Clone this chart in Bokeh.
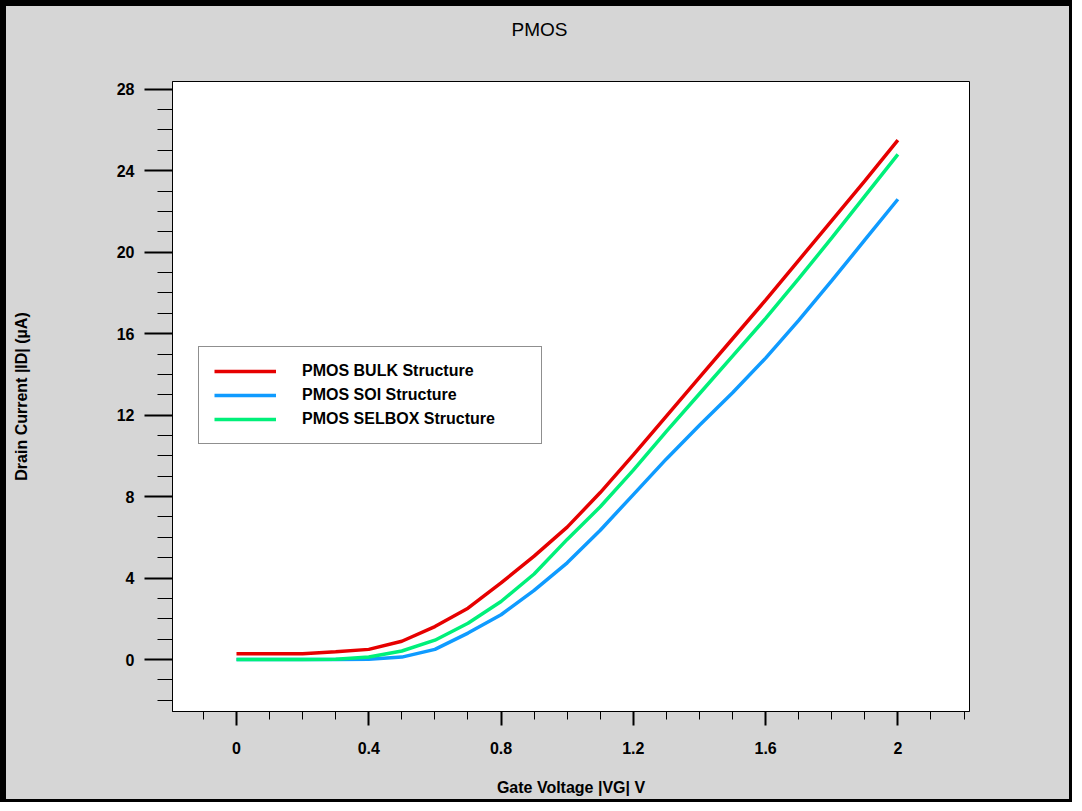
from bokeh.plotting import figure
from bokeh.models import FixedTicker, Legend, LegendItem, Range1d, Label
from bokeh.embed import file_html
from bokeh.resources import INLINE

# ---- data ----
gate_voltage = [0.0, 0.1, 0.2, 0.3, 0.4, 0.5, 0.6, 0.7, 0.8, 0.9, 1.0,
                1.1, 1.2, 1.3, 1.4, 1.5, 1.6, 1.7, 1.8, 1.9, 2.0]
bulk_current = [0.29, 0.29, 0.29, 0.38, 0.50, 0.90, 1.62, 2.52, 3.76, 5.08, 6.5,
                8.2, 10.05, 11.95, 13.85, 15.75, 17.65, 19.6, 21.55, 23.5, 25.5]
soi_current = [0.0, 0.0, 0.0, 0.0, 0.02, 0.12, 0.5, 1.3, 2.2, 3.4, 4.75,
               6.35, 8.1, 9.85, 11.5, 13.1, 14.8, 16.65, 18.6, 20.6, 22.6]
selbox_current = [0.0, 0.0, 0.0, 0.02, 0.13, 0.42, 0.95, 1.78, 2.85, 4.2, 5.9,
                  7.5, 9.3, 11.2, 13.05, 14.9, 16.75, 18.7, 20.7, 22.75, 24.8]

series_names = ["PMOS BULK Structure", "PMOS SOI Structure", "PMOS SELBOX Structure"]
series_colors = ["#e60000", "#0f9bff", "#00f07a"]

x_ticks = [0, 0.4, 0.8, 1.2, 1.6, 2]
x_tick_labels = ["0", "0.4", "0.8", "1.2", "1.6", "2"]
y_ticks = [0, 4, 8, 12, 16, 20, 24, 28]
y_tick_labels = ["0", "4", "8", "12", "16", "20", "24", "28"]

title_text = "PMOS"
x_label = "Gate Voltage |VG| V"
y_label = "Drain Current |ID| (\u00b5A)"

FONT = "Liberation Sans"
W, H = 1072, 802

p = figure(width=W, height=H, output_backend="svg", toolbar_location=None,
           x_range=Range1d(-0.1935, 2.2165), y_range=Range1d(-2.55, 28.38),
           min_border_left=172, min_border_right=103, min_border_top=81,
           min_border_bottom=91)
# grey window with a black frame (thick on left/top, thin on right/bottom)
p.styles = {"background-color": "#d6d6d6",
            "box-shadow": "inset 6px 6px 0 0 #000000, inset -3px -3px 0 0 #000000"}
p.border_fill_color = None
p.background_fill_color = "white"
p.outline_line_color = "black"
p.outline_line_width = 1
p.grid.visible = False

renderers = []
for ys, col in zip([bulk_current, soi_current, selbox_current], series_colors):
    r = p.line(gate_voltage, ys, line_color=col, line_width=3.5)
    renderers.append(r)

# title, centred over the whole window rather than over the plot area
p.add_layout(Label(x=367, y=52, x_units="screen", y_units="screen",
                   text=title_text, text_align="center", text_baseline="middle",
                   text_font=FONT, text_font_size="19px", text_color="black"),
             "above")

xa = p.xaxis[0]
xa.ticker = FixedTicker(ticks=x_ticks,
                        minor_ticks=[round(-0.1 + 0.1 * i, 1) for i in range(24)])
xa.major_label_overrides = dict(zip(x_ticks, x_tick_labels))
xa.major_tick_out = 14
xa.major_tick_in = 0
xa.minor_tick_out = 8
xa.minor_tick_in = 0
xa.major_label_standoff = 16
xa.axis_label = x_label
xa.axis_label_standoff = 22

ya = p.yaxis[0]
ya.ticker = FixedTicker(ticks=y_ticks, minor_ticks=list(range(-2, 29)))
ya.major_label_overrides = dict(zip(y_ticks, y_tick_labels))
ya.major_tick_out = 28
ya.major_tick_in = 0
ya.minor_tick_out = 15
ya.minor_tick_in = 0
ya.major_label_standoff = 10
ya.axis_label = y_label
ya.axis_label_standoff = 84

for ax in (xa, ya):
    ax.axis_line_color = "black"
    ax.major_tick_line_color = "black"
    ax.minor_tick_line_color = "black"
    ax.major_tick_line_width = 2
    ax.minor_tick_line_width = 1
    ax.major_label_text_font = FONT
    ax.major_label_text_font_size = "16px"
    ax.major_label_text_font_style = "bold"
    ax.major_label_text_color = "black"
    ax.axis_label_text_font = FONT
    ax.axis_label_text_font_size = "16px"
    ax.axis_label_text_font_style = "bold"
    ax.axis_label_text_color = "black"

legend = Legend(items=[LegendItem(label=n, renderers=[r])
                       for n, r in zip(series_names, renderers)],
                location=(26, 267), padding=15, spacing=6,
                glyph_width=62, glyph_height=18, label_height=18,
                label_width=224, label_standoff=26,
                border_line_color="#202020", border_line_width=1,
                background_fill_color="white", background_fill_alpha=1.0,
                label_text_font=FONT, label_text_font_size="16px",
                label_text_font_style="bold", label_text_color="black")
p.add_layout(legend)

open("out.html", "w").write(file_html(p, INLINE))
